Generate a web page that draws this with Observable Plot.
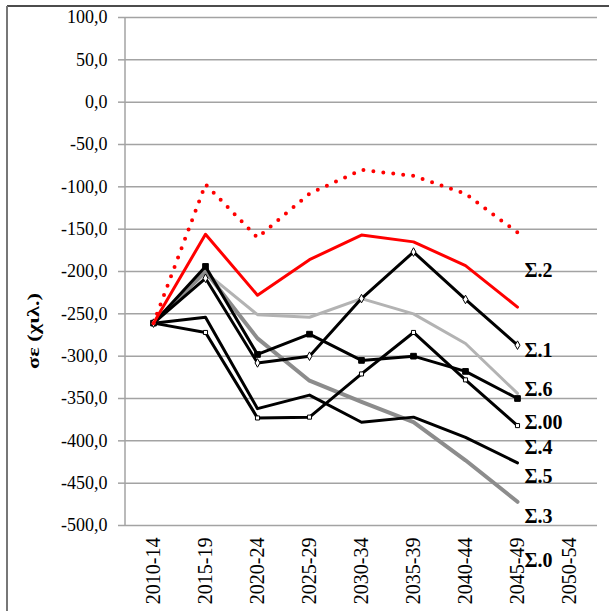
<!DOCTYPE html>
<html>
<head>
<meta charset="utf-8">
<script src="https://cdn.jsdelivr.net/npm/d3@7"></script>
<script src="https://cdn.jsdelivr.net/npm/@observablehq/plot@0.6"></script>
<style>
  html, body { margin: 0; padding: 0; background: #fff; overflow: hidden; }
  #chart { position: relative; width: 609px; height: 611px; }
</style>
</head>
<body>
<div id="chart"></div>
<script>
const categories = ["2010-14","2015-19","2020-24","2025-29","2030-34","2035-39","2040-44","2045-49","2050-54"];
const yTicks = [-500,-450,-400,-350,-300,-250,-200,-150,-100,-50,0,50,100];
const yLabel = "σε (χιλ.)";

// Series values (thousands), 2010-14 .. 2045-49
const seriesS0  = [-261, -97, -160, -108, -80, -87, -108, -154];   // red dotted
const seriesS2  = [-261, -156, -228, -186, -157, -165, -193, -242]; // red solid
const seriesS6  = [-261, -201, -251, -254, -232, -250, -285, -344]; // light gray
const seriesS3  = [-261, -200, -279, -329, -354, -378, -423, -472]; // dark gray
const seriesS1  = [-261, -208, -308, -300, -232, -177, -233, -287]; // black, open diamonds
const seriesS4  = [-261, -194, -298, -274, -305, -300, -318, -350]; // black, filled squares
const seriesS00 = [-261, -272, -373, -372, -321, -272, -328, -382]; // black, open markers
const seriesS5  = [-261, -254, -362, -346, -378, -372, -396, -426]; // black, plain

// End-of-line annotations
const labelNames  = ["Σ.2", "Σ.1", "Σ.6", "Σ.00", "Σ.4", "Σ.5", "Σ.3", "Σ.0"];
const labelValues = [-199, -293, -340, -379, -408, -442, -489, -541];
const labelCategory = "2045-49";

const rows = vals => vals.map((v, i) => ({cat: categories[i], v}));
const labels = labelNames.map((n, i) => ({name: n, cat: labelCategory, v: labelValues[i]}));
const fmt = d => d.toFixed(1).replace(".", ",");

const gridColor = "#a3a3a3";

const chart = Plot.plot({
  width: 609,
  height: 611,
  marginLeft: 125,
  marginRight: 12,
  marginTop: 17,
  marginBottom: 86,
  style: {fontFamily: "'Liberation Serif', 'Times New Roman', serif", background: "white", color: "#000"},
  x: {type: "point", domain: categories, padding: 0.5},
  y: {domain: [-500, 100]},
  marks: [
    Plot.gridY(yTicks, {stroke: gridColor, strokeOpacity: 1, strokeWidth: 1.5}),
    Plot.axisY(yTicks, {tickSize: 7, tickPadding: 11, tickFormat: fmt, fontSize: 18, stroke: gridColor, strokeWidth: 1.5, label: null}),
    Plot.axisX({tickSize: 0, tickRotate: -90, tickPadding: 12, fontSize: 20, label: null}),
    Plot.line(rows(seriesS6), {x: "cat", y: "v", stroke: "#b3b3b3", strokeWidth: 3}),
    Plot.line(rows(seriesS3), {x: "cat", y: "v", stroke: "#8c8c8c", strokeWidth: 4}),
    Plot.line(rows(seriesS5), {x: "cat", y: "v", stroke: "#000", strokeWidth: 3}),
    Plot.line(rows(seriesS00), {x: "cat", y: "v", stroke: "#000", strokeWidth: 3}),
    Plot.line(rows(seriesS4), {x: "cat", y: "v", stroke: "#000", strokeWidth: 3}),
    Plot.line(rows(seriesS1), {x: "cat", y: "v", stroke: "#000", strokeWidth: 3}),
    Plot.dot(rows(seriesS00), {x: "cat", y: "v", symbol: "square", r: 2.3, fill: "white", stroke: "#000", strokeWidth: 1}),
    Plot.dot(rows(seriesS4), {x: "cat", y: "v", symbol: "square", r: 3.2, fill: "#000", stroke: "#000", strokeWidth: 1}),
    Plot.dot(rows(seriesS1), {x: "cat", y: "v", symbol: "diamond", r: 2.6, fill: "white", stroke: "#000", strokeWidth: 1}),
    Plot.line(rows(seriesS2), {x: "cat", y: "v", stroke: "#ff0000", strokeWidth: 3}),
    Plot.line(rows(seriesS0), {x: "cat", y: "v", stroke: "#ff0000", strokeWidth: 4, strokeDasharray: "0,10", strokeLinecap: "round"}),
    Plot.text(labels, {x: "cat", y: "v", text: "name", dx: 7, textAnchor: "start", lineAnchor: "middle", fontSize: 20, fontWeight: "bold", fill: "#000"})
  ]
});

const svg = d3.select(chart);
// y axis line
svg.append("line")
  .attr("x1", 125).attr("x2", 125).attr("y1", 17).attr("y2", 525)
  .attr("stroke", gridColor).attr("stroke-width", 1.5);
// y axis title
svg.append("text")
  .text(yLabel)
  .attr("transform", "translate(39,331) rotate(-90)")
  .attr("text-anchor", "middle")
  .attr("font-size", 16)
  .attr("font-weight", "bold")
  .attr("textLength", 76)
  .attr("lengthAdjust", "spacingAndGlyphs")
  .attr("fill", "#000");
// outer frame (top and left)
svg.append("line").attr("x1", 7).attr("x2", 609).attr("y1", 6).attr("y2", 6)
  .attr("stroke", "#111").attr("stroke-width", 1.5);
svg.append("line").attr("x1", 7).attr("x2", 7).attr("y1", 6).attr("y2", 611)
  .attr("stroke", "#777").attr("stroke-width", 2);

document.getElementById("chart").appendChild(chart);
</script>
</body>
</html>
